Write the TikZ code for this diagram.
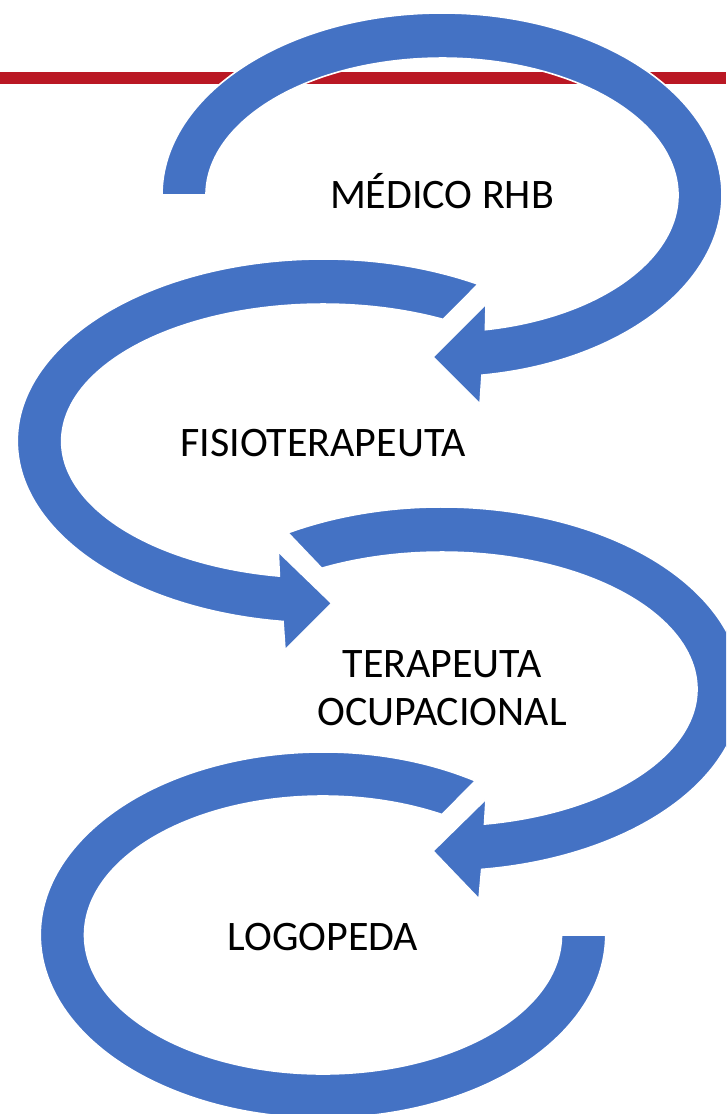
\documentclass[tikz,border=0pt]{standalone}
\usepackage{fontspec}
\setmainfont{Carlito}
\usepackage{xcolor}
\usepackage{tikz}

\definecolor{azulciclo}{RGB}{68,114,196}
\definecolor{rojolinea}{RGB}{186,24,36}

\begin{document}
\begin{tikzpicture}[x=0.75pt,y=0.75pt,yscale=-1,xscale=1,
  ciclo/.style={fill=azulciclo, draw=white, line width=1.2pt, line join=miter},
  rotulo/.style={inner sep=0pt, font=\fontsize{31.5}{35.5}\selectfont, align=center}]
%set diagram to 726 x 1114
\clip (0,0) rectangle (726,1114);

%Straight Lines: red rule
\draw [color=rojolinea, line width=9pt] (0,78) -- (726,78) ;

%Shape: Circular Arrow 1
\draw [ciclo] (162,195) arc[start angle=180, end angle=441.8, x radius=280, y radius=182] -- (480,404) -- (433,357) -- (486,304) -- (485.4,329.7) arc[start angle=439.4, end angle=180, x radius=236, y radius=137] -- cycle ;
%Shape: Circular Arrow 2
\draw [ciclo] (478.1,284.2) arc[start angle=300.5, end angle=97.5, x radius=305.7, y radius=182] -- (285,650) -- (331.7,603.3) -- (278.3,551.7) -- (279.4,576.1) arc[start angle=99.6, end angle=297.4, x radius=261.3, y radius=137] -- cycle ;
%Shape: Circular Arrow 3
\draw [ciclo] (287.9,532.8) arc[start angle=239.1, end angle=442.4, x radius=300, y radius=182] -- (479,899) -- (433,851) -- (486,799) -- (484.5,824.1) arc[start angle=440.4, end angle=241.85, x radius=255, y radius=137] -- cycle ;
%Shape: Circular Arrow 4
\draw [ciclo] (475.3,780.8) arc[start angle=302.6, end angle=0, x radius=282.7, y radius=183] -- (561.5,935) arc[start angle=0, end angle=299.94, x radius=238.5, y radius=139] -- cycle ;

% Text Node
\node [rotulo, anchor=base] (medico) at (442,208) {MÉDICO RHB};
% Text Node
\node [rotulo, anchor=base] (fisio) at (323,456) {FISIOTERAPEUTA};
% Text Node (baseline of last line)
\node [rotulo, anchor=base] (terapeuta) at (442,725) {TERAPEUTA\\OCUPACIONAL};
% Text Node
\node [rotulo, anchor=base] (logopeda) at (323,950) {LOGOPEDA};
\end{tikzpicture}
\end{document}
